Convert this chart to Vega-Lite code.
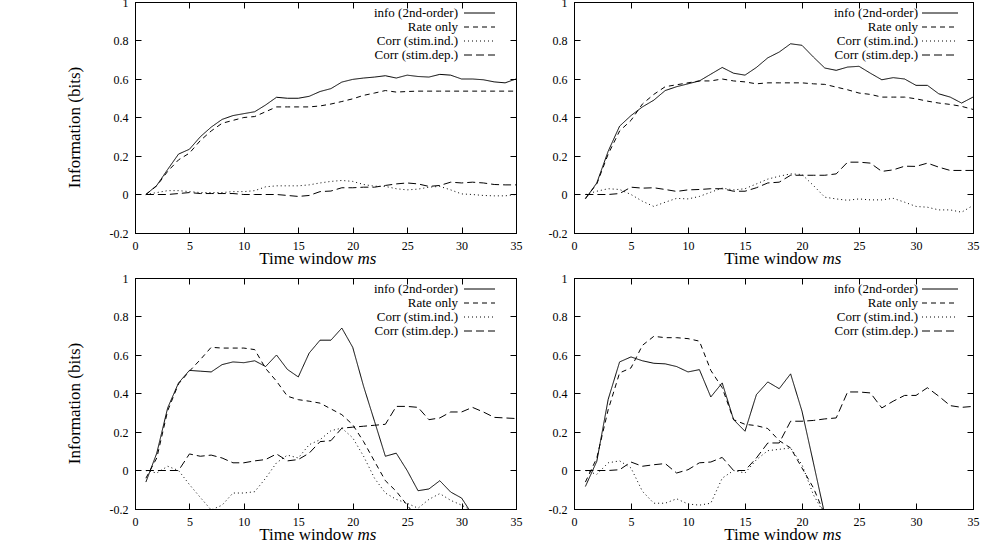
{
  "$schema": "https://vega.github.io/schema/vega-lite/v6.json",
  "padding": {"left": 64, "top": -5, "right": 0, "bottom": 0},
  "data": {
    "values": [
      {"p": "a", "t": 1, "info": 0, "rate": 0, "ind": 0, "dep": 0},
      {"p": "a", "t": 2, "info": 0.047, "rate": 0.045, "ind": 0.01, "dep": 0},
      {"p": "a", "t": 3, "info": 0.13, "rate": 0.12, "ind": 0.02, "dep": 0},
      {"p": "a", "t": 4, "info": 0.21, "rate": 0.18, "ind": 0.02, "dep": 0.005},
      {"p": "a", "t": 5, "info": 0.235, "rate": 0.215, "ind": 0.015, "dep": 0.01},
      {"p": "a", "t": 6, "info": 0.3, "rate": 0.28, "ind": 0.01, "dep": 0.005},
      {"p": "a", "t": 7, "info": 0.35, "rate": 0.33, "ind": 0.01, "dep": 0.005},
      {"p": "a", "t": 8, "info": 0.39, "rate": 0.37, "ind": 0.01, "dep": 0.005},
      {"p": "a", "t": 9, "info": 0.41, "rate": 0.385, "ind": 0.015, "dep": 0.005},
      {"p": "a", "t": 10, "info": 0.42, "rate": 0.4, "ind": 0.015, "dep": 0},
      {"p": "a", "t": 11, "info": 0.43, "rate": 0.405, "ind": 0.02, "dep": 0},
      {"p": "a", "t": 12, "info": 0.465, "rate": 0.43, "ind": 0.04, "dep": 0},
      {"p": "a", "t": 13, "info": 0.505, "rate": 0.455, "ind": 0.045, "dep": 0},
      {"p": "a", "t": 14, "info": 0.5, "rate": 0.455, "ind": 0.045, "dep": -0.005},
      {"p": "a", "t": 15, "info": 0.5, "rate": 0.455, "ind": 0.045, "dep": -0.01},
      {"p": "a", "t": 16, "info": 0.51, "rate": 0.455, "ind": 0.05, "dep": -0.005},
      {"p": "a", "t": 17, "info": 0.535, "rate": 0.46, "ind": 0.06, "dep": 0.015},
      {"p": "a", "t": 18, "info": 0.55, "rate": 0.47, "ind": 0.068, "dep": 0.018},
      {"p": "a", "t": 19, "info": 0.584, "rate": 0.483, "ind": 0.073, "dep": 0.035},
      {"p": "a", "t": 20, "info": 0.598, "rate": 0.497, "ind": 0.068, "dep": 0.035},
      {"p": "a", "t": 21, "info": 0.605, "rate": 0.515, "ind": 0.052, "dep": 0.038},
      {"p": "a", "t": 22, "info": 0.61, "rate": 0.527, "ind": 0.043, "dep": 0.038},
      {"p": "a", "t": 23, "info": 0.617, "rate": 0.54, "ind": 0.042, "dep": 0.047},
      {"p": "a", "t": 24, "info": 0.605, "rate": 0.532, "ind": 0.03, "dep": 0.055},
      {"p": "a", "t": 25, "info": 0.62, "rate": 0.535, "ind": 0.024, "dep": 0.06},
      {"p": "a", "t": 26, "info": 0.613, "rate": 0.537, "ind": 0.028, "dep": 0.055},
      {"p": "a", "t": 27, "info": 0.61, "rate": 0.537, "ind": 0.038, "dep": 0.042},
      {"p": "a", "t": 28, "info": 0.624, "rate": 0.537, "ind": 0.042, "dep": 0.047},
      {"p": "a", "t": 29, "info": 0.62, "rate": 0.537, "ind": 0.024, "dep": 0.064},
      {"p": "a", "t": 30, "info": 0.6, "rate": 0.537, "ind": 0.003, "dep": 0.06},
      {"p": "a", "t": 31, "info": 0.6, "rate": 0.537, "ind": 0, "dep": 0.064},
      {"p": "a", "t": 32, "info": 0.596, "rate": 0.537, "ind": -0.005, "dep": 0.06},
      {"p": "a", "t": 33, "info": 0.585, "rate": 0.537, "ind": -0.007, "dep": 0.052},
      {"p": "a", "t": 34, "info": 0.58, "rate": 0.537, "ind": -0.007, "dep": 0.05},
      {"p": "a", "t": 35, "info": 0.6, "rate": 0.537, "ind": 0, "dep": 0.05},
      {"p": "b", "t": 1, "info": -0.023, "rate": -0.02, "ind": 0, "dep": 0},
      {"p": "b", "t": 2, "info": 0.06, "rate": 0.055, "ind": 0.017, "dep": 0},
      {"p": "b", "t": 3, "info": 0.225, "rate": 0.21, "ind": 0.03, "dep": 0},
      {"p": "b", "t": 4, "info": 0.355, "rate": 0.33, "ind": 0.026, "dep": 0.005},
      {"p": "b", "t": 5, "info": 0.41, "rate": 0.385, "ind": 0, "dep": 0.038},
      {"p": "b", "t": 6, "info": 0.455, "rate": 0.47, "ind": -0.035, "dep": 0.033},
      {"p": "b", "t": 7, "info": 0.49, "rate": 0.52, "ind": -0.062, "dep": 0.035},
      {"p": "b", "t": 8, "info": 0.54, "rate": 0.56, "ind": -0.04, "dep": 0.026},
      {"p": "b", "t": 9, "info": 0.56, "rate": 0.57, "ind": -0.02, "dep": 0.016},
      {"p": "b", "t": 10, "info": 0.575, "rate": 0.58, "ind": -0.023, "dep": 0.024},
      {"p": "b", "t": 11, "info": 0.59, "rate": 0.59, "ind": -0.01, "dep": 0.026},
      {"p": "b", "t": 12, "info": 0.625, "rate": 0.59, "ind": 0.012, "dep": 0.03},
      {"p": "b", "t": 13, "info": 0.66, "rate": 0.6, "ind": 0.033, "dep": 0.03},
      {"p": "b", "t": 14, "info": 0.63, "rate": 0.59, "ind": 0.024, "dep": 0.017},
      {"p": "b", "t": 15, "info": 0.62, "rate": 0.585, "ind": 0.03, "dep": 0.017},
      {"p": "b", "t": 16, "info": 0.66, "rate": 0.575, "ind": 0.055, "dep": 0.035},
      {"p": "b", "t": 17, "info": 0.71, "rate": 0.58, "ind": 0.08, "dep": 0.06},
      {"p": "b", "t": 18, "info": 0.74, "rate": 0.58, "ind": 0.095, "dep": 0.064},
      {"p": "b", "t": 19, "info": 0.783, "rate": 0.58, "ind": 0.107, "dep": 0.1},
      {"p": "b", "t": 20, "info": 0.775, "rate": 0.58, "ind": 0.104, "dep": 0.1},
      {"p": "b", "t": 21, "info": 0.714, "rate": 0.575, "ind": 0.047, "dep": 0.1},
      {"p": "b", "t": 22, "info": 0.657, "rate": 0.572, "ind": -0.014, "dep": 0.1},
      {"p": "b", "t": 23, "info": 0.645, "rate": 0.558, "ind": -0.023, "dep": 0.107},
      {"p": "b", "t": 24, "info": 0.662, "rate": 0.544, "ind": -0.03, "dep": 0.168},
      {"p": "b", "t": 25, "info": 0.666, "rate": 0.527, "ind": -0.023, "dep": 0.168},
      {"p": "b", "t": 26, "info": 0.63, "rate": 0.52, "ind": -0.028, "dep": 0.163},
      {"p": "b", "t": 27, "info": 0.596, "rate": 0.506, "ind": -0.028, "dep": 0.12},
      {"p": "b", "t": 28, "info": 0.607, "rate": 0.506, "ind": -0.02, "dep": 0.128},
      {"p": "b", "t": 29, "info": 0.6, "rate": 0.506, "ind": -0.04, "dep": 0.147},
      {"p": "b", "t": 30, "info": 0.567, "rate": 0.497, "ind": -0.062, "dep": 0.146},
      {"p": "b", "t": 31, "info": 0.567, "rate": 0.485, "ind": -0.066, "dep": 0.163},
      {"p": "b", "t": 32, "info": 0.523, "rate": 0.475, "ind": -0.08, "dep": 0.142},
      {"p": "b", "t": 33, "info": 0.506, "rate": 0.468, "ind": -0.08, "dep": 0.125},
      {"p": "b", "t": 34, "info": 0.475, "rate": 0.458, "ind": -0.092, "dep": 0.125},
      {"p": "b", "t": 35, "info": 0.506, "rate": 0.442, "ind": -0.057, "dep": 0.125},
      {"p": "c", "t": 1, "info": -0.06, "rate": -0.04, "ind": 0, "dep": 0},
      {"p": "c", "t": 2, "info": 0.09, "rate": 0.065, "ind": -0.013, "dep": 0},
      {"p": "c", "t": 3, "info": 0.325, "rate": 0.31, "ind": 0.022, "dep": 0},
      {"p": "c", "t": 4, "info": 0.455, "rate": 0.45, "ind": 0, "dep": 0},
      {"p": "c", "t": 5, "info": 0.52, "rate": 0.516, "ind": -0.073, "dep": 0.086},
      {"p": "c", "t": 6, "info": 0.516, "rate": 0.576, "ind": -0.14, "dep": 0.074},
      {"p": "c", "t": 7, "info": 0.512, "rate": 0.64, "ind": -0.205, "dep": 0.08},
      {"p": "c", "t": 8, "info": 0.55, "rate": 0.636, "ind": -0.18, "dep": 0.065},
      {"p": "c", "t": 9, "info": 0.564, "rate": 0.636, "ind": -0.117, "dep": 0.04},
      {"p": "c", "t": 10, "info": 0.56, "rate": 0.636, "ind": -0.117, "dep": 0.04},
      {"p": "c", "t": 11, "info": 0.57, "rate": 0.628, "ind": -0.11, "dep": 0.05},
      {"p": "c", "t": 12, "info": 0.54, "rate": 0.53, "ind": -0.04, "dep": 0.057},
      {"p": "c", "t": 13, "info": 0.6, "rate": 0.464, "ind": 0.04, "dep": 0.086},
      {"p": "c", "t": 14, "info": 0.525, "rate": 0.386, "ind": 0.08, "dep": 0.05},
      {"p": "c", "t": 15, "info": 0.486, "rate": 0.368, "ind": 0.065, "dep": 0.057},
      {"p": "c", "t": 16, "info": 0.61, "rate": 0.36, "ind": 0.134, "dep": 0.09},
      {"p": "c", "t": 17, "info": 0.677, "rate": 0.35, "ind": 0.16, "dep": 0.15},
      {"p": "c", "t": 18, "info": 0.677, "rate": 0.32, "ind": 0.207, "dep": 0.155},
      {"p": "c", "t": 19, "info": 0.74, "rate": 0.29, "ind": 0.22, "dep": 0.22},
      {"p": "c", "t": 20, "info": 0.64, "rate": 0.238, "ind": 0.17, "dep": 0.225},
      {"p": "c", "t": 21, "info": 0.437, "rate": 0.15, "ind": 0.074, "dep": 0.23},
      {"p": "c", "t": 22, "info": 0.256, "rate": 0.048, "ind": -0.04, "dep": 0.235},
      {"p": "c", "t": 23, "info": 0.074, "rate": -0.053, "ind": -0.117, "dep": 0.24},
      {"p": "c", "t": 24, "info": 0.09, "rate": -0.108, "ind": -0.15, "dep": 0.333},
      {"p": "c", "t": 25, "info": 0, "rate": -0.18, "ind": -0.17, "dep": 0.333},
      {"p": "c", "t": 26, "info": -0.105, "rate": -0.25, "ind": -0.196, "dep": 0.328},
      {"p": "c", "t": 27, "info": -0.096, "rate": null, "ind": -0.15, "dep": 0.264},
      {"p": "c", "t": 28, "info": -0.053, "rate": null, "ind": -0.12, "dep": 0.273},
      {"p": "c", "t": 29, "info": -0.112, "rate": null, "ind": -0.155, "dep": 0.304},
      {"p": "c", "t": 30, "info": -0.143, "rate": null, "ind": -0.18, "dep": 0.304},
      {"p": "c", "t": 31, "info": -0.23, "rate": null, "ind": -0.21, "dep": 0.328},
      {"p": "c", "t": 32, "info": null, "rate": null, "ind": null, "dep": 0.304},
      {"p": "c", "t": 33, "info": null, "rate": null, "ind": null, "dep": 0.276},
      {"p": "c", "t": 34, "info": null, "rate": null, "ind": null, "dep": 0.273},
      {"p": "c", "t": 35, "info": null, "rate": null, "ind": null, "dep": 0.27},
      {"p": "d", "t": 1, "info": -0.083, "rate": -0.06, "ind": 0, "dep": 0},
      {"p": "d", "t": 2, "info": 0.048, "rate": 0.065, "ind": -0.02, "dep": 0},
      {"p": "d", "t": 3, "info": 0.37, "rate": 0.316, "ind": 0.04, "dep": 0},
      {"p": "d", "t": 4, "info": 0.564, "rate": 0.507, "ind": 0.05, "dep": 0.004},
      {"p": "d", "t": 5, "info": 0.59, "rate": 0.533, "ind": 0.013, "dep": 0.044},
      {"p": "d", "t": 6, "info": 0.57, "rate": 0.65, "ind": -0.108, "dep": 0.022},
      {"p": "d", "t": 7, "info": 0.557, "rate": 0.697, "ind": -0.17, "dep": 0.03},
      {"p": "d", "t": 8, "info": 0.554, "rate": 0.69, "ind": -0.17, "dep": 0.036},
      {"p": "d", "t": 9, "info": 0.54, "rate": 0.69, "ind": -0.147, "dep": -0.013},
      {"p": "d", "t": 10, "info": 0.512, "rate": 0.685, "ind": -0.174, "dep": 0.004},
      {"p": "d", "t": 11, "info": 0.524, "rate": 0.672, "ind": -0.18, "dep": 0.04},
      {"p": "d", "t": 12, "info": 0.382, "rate": 0.52, "ind": -0.17, "dep": 0.044},
      {"p": "d", "t": 13, "info": 0.455, "rate": 0.43, "ind": -0.04, "dep": 0.068},
      {"p": "d", "t": 14, "info": 0.264, "rate": 0.264, "ind": 0, "dep": 0},
      {"p": "d", "t": 15, "info": 0.204, "rate": 0.24, "ind": -0.013, "dep": 0},
      {"p": "d", "t": 16, "info": 0.394, "rate": 0.233, "ind": 0.056, "dep": 0.065},
      {"p": "d", "t": 17, "info": 0.46, "rate": 0.218, "ind": 0.103, "dep": 0.143},
      {"p": "d", "t": 18, "info": 0.425, "rate": 0.155, "ind": 0.11, "dep": 0.143},
      {"p": "d", "t": 19, "info": 0.502, "rate": 0.117, "ind": 0.117, "dep": 0.256},
      {"p": "d", "t": 20, "info": 0.308, "rate": 0.013, "ind": 0.03, "dep": 0.256},
      {"p": "d", "t": 21, "info": 0.04, "rate": -0.09, "ind": -0.126, "dep": 0.26},
      {"p": "d", "t": 22, "info": -0.23, "rate": -0.23, "ind": -0.23, "dep": 0.268},
      {"p": "d", "t": 23, "info": null, "rate": null, "ind": null, "dep": 0.273},
      {"p": "d", "t": 24, "info": null, "rate": null, "ind": null, "dep": 0.408},
      {"p": "d", "t": 25, "info": null, "rate": null, "ind": null, "dep": 0.408},
      {"p": "d", "t": 26, "info": null, "rate": null, "ind": null, "dep": 0.403},
      {"p": "d", "t": 27, "info": null, "rate": null, "ind": null, "dep": 0.325},
      {"p": "d", "t": 28, "info": null, "rate": null, "ind": null, "dep": 0.36},
      {"p": "d", "t": 29, "info": null, "rate": null, "ind": null, "dep": 0.39},
      {"p": "d", "t": 30, "info": null, "rate": null, "ind": null, "dep": 0.39},
      {"p": "d", "t": 31, "info": null, "rate": null, "ind": null, "dep": 0.43},
      {"p": "d", "t": 32, "info": null, "rate": null, "ind": null, "dep": 0.386},
      {"p": "d", "t": 33, "info": null, "rate": null, "ind": null, "dep": 0.337},
      {"p": "d", "t": 34, "info": null, "rate": null, "ind": null, "dep": 0.328},
      {"p": "d", "t": 35, "info": null, "rate": null, "ind": null, "dep": 0.333}
    ]
  },
  "columns": 2,
  "bounds": "flush",
  "align": "each",
  "spacing": {"row": 45, "column": 58},
  "resolve": {"scale": {"strokeDash": "independent"}, "legend": {"strokeDash": "independent"}},
  "concat": [
    {
      "width": 381,
      "height": 231,
      "transform": [{"filter": "datum.p == 'a'"}, {"fold": ["info", "rate", "ind", "dep"], "as": ["series", "bits"]}],
      "layer": [
        {
          "mark": {"type": "line", "clip": true, "color": "black", "strokeWidth": 1},
          "encoding": {
            "x": {"field": "t", "type": "quantitative", "scale": {"domain": [0, 35]}, "axis": {"orient": "bottom", "values": [0, 5, 10, 15, 20, 25, 30, 35], "title": "Time window", "titleX": 218, "titleY": 30.5, "titleAlign": "right", "titleBaseline": "alphabetic"}},
            "y": {"field": "bits", "type": "quantitative", "scale": {"domain": [-0.2, 1]}, "axis": {"orient": "left", "values": [-0.2, 0, 0.2, 0.4, 0.6, 0.8, 1], "labelExpr": "replace(format(datum.value, ''), '−', '-')", "title": "Information (bits)", "titleY": 125}},
            "strokeDash": {"field": "series", "type": "nominal", "scale": {"domain": ["info", "rate", "ind", "dep"], "range": [[1, 0], [5, 4], [1, 3], [8, 4]]}, "legend": {"orient": "none", "legendX": 338, "legendY": 4.5, "symbolType": "M-7.75,0H7.75", "labelOffset": -28, "labelExpr": "datum.label == 'info' ? 'info (2nd-order)' : datum.label == 'rate' ? 'Rate only' : datum.label == 'ind' ? 'Corr (stim.ind.)' : 'Corr (stim.dep.)'"}}
          }
        },
        {
          "mark": {"type": "line", "opacity": 0},
          "encoding": {
            "x": {"field": "t", "type": "quantitative", "scale": {"domain": [0, 35]}, "axis": {"orient": "top", "values": [0, 5, 10, 15, 20, 25, 30, 35], "labels": false, "title": null}},
            "y": {"field": "bits", "type": "quantitative", "scale": {"domain": [-0.2, 1]}, "axis": {"orient": "right", "values": [-0.2, 0, 0.2, 0.4, 0.6, 0.8, 1], "labels": false, "title": null}}
          }
        },
        {
          "mark": {"type": "line", "opacity": 0},
          "encoding": {
            "x": {"field": "t", "type": "quantitative", "scale": {"domain": [0, 35]}, "axis": {"orient": "bottom", "labels": false, "ticks": false, "domain": false, "title": "ms", "titleFontStyle": "italic", "titleX": 222, "titleY": 30.5, "titleAlign": "left", "titleBaseline": "alphabetic"}},
            "y": {"field": "bits", "type": "quantitative", "axis": null}
          }
        }
      ],
      "resolve": {"axis": {"x": "independent", "y": "independent"}}
    },
    {
      "width": 399,
      "height": 231,
      "transform": [{"filter": "datum.p == 'b'"}, {"fold": ["info", "rate", "ind", "dep"], "as": ["series", "bits"]}],
      "layer": [
        {
          "mark": {"type": "line", "clip": true, "color": "black", "strokeWidth": 1},
          "encoding": {
            "x": {"field": "t", "type": "quantitative", "scale": {"domain": [0, 35]}, "axis": {"orient": "bottom", "values": [0, 5, 10, 15, 20, 25, 30, 35], "title": "Time window", "titleX": 244, "titleY": 30.5, "titleAlign": "right", "titleBaseline": "alphabetic"}},
            "y": {"field": "bits", "type": "quantitative", "scale": {"domain": [-0.2, 1]}, "axis": {"orient": "left", "values": [-0.2, 0, 0.2, 0.4, 0.6, 0.8, 1], "labelExpr": "replace(format(datum.value, ''), '−', '-')", "title": null}},
            "strokeDash": {"field": "series", "type": "nominal", "scale": {"domain": ["info", "rate", "ind", "dep"], "range": [[1, 0], [5, 4], [1, 3], [8, 4]]}, "legend": {"orient": "none", "legendX": 359.5, "legendY": 4.5, "symbolType": "M-9,0H9", "labelOffset": -28.5, "labelExpr": "datum.label == 'info' ? 'info (2nd-order)' : datum.label == 'rate' ? 'Rate only' : datum.label == 'ind' ? 'Corr (stim.ind.)' : 'Corr (stim.dep.)'"}}
          }
        },
        {
          "mark": {"type": "line", "opacity": 0},
          "encoding": {
            "x": {"field": "t", "type": "quantitative", "scale": {"domain": [0, 35]}, "axis": {"orient": "top", "values": [0, 5, 10, 15, 20, 25, 30, 35], "labels": false, "title": null}},
            "y": {"field": "bits", "type": "quantitative", "scale": {"domain": [-0.2, 1]}, "axis": {"orient": "right", "values": [-0.2, 0, 0.2, 0.4, 0.6, 0.8, 1], "labels": false, "title": null}}
          }
        },
        {
          "mark": {"type": "line", "opacity": 0},
          "encoding": {
            "x": {"field": "t", "type": "quantitative", "scale": {"domain": [0, 35]}, "axis": {"orient": "bottom", "labels": false, "ticks": false, "domain": false, "title": "ms", "titleFontStyle": "italic", "titleX": 248, "titleY": 30.5, "titleAlign": "left", "titleBaseline": "alphabetic"}},
            "y": {"field": "bits", "type": "quantitative", "axis": null}
          }
        }
      ],
      "resolve": {"axis": {"x": "independent", "y": "independent"}}
    },
    {
      "width": 381,
      "height": 231,
      "transform": [{"filter": "datum.p == 'c'"}, {"fold": ["info", "rate", "ind", "dep"], "as": ["series", "bits"]}],
      "layer": [
        {
          "mark": {"type": "line", "clip": true, "color": "black", "strokeWidth": 1},
          "encoding": {
            "x": {"field": "t", "type": "quantitative", "scale": {"domain": [0, 35]}, "axis": {"orient": "bottom", "values": [0, 5, 10, 15, 20, 25, 30, 35], "title": "Time window", "titleX": 218, "titleY": 30.5, "titleAlign": "right", "titleBaseline": "alphabetic"}},
            "y": {"field": "bits", "type": "quantitative", "scale": {"domain": [-0.2, 1]}, "axis": {"orient": "left", "values": [-0.2, 0, 0.2, 0.4, 0.6, 0.8, 1], "labelExpr": "replace(format(datum.value, ''), '−', '-')", "title": "Information (bits)", "titleY": 125}},
            "strokeDash": {"field": "series", "type": "nominal", "scale": {"domain": ["info", "rate", "ind", "dep"], "range": [[1, 0], [5, 4], [1, 3], [8, 4]]}, "legend": {"orient": "none", "legendX": 338, "legendY": 4.5, "symbolType": "M-7.75,0H7.75", "labelOffset": -28, "labelExpr": "datum.label == 'info' ? 'info (2nd-order)' : datum.label == 'rate' ? 'Rate only' : datum.label == 'ind' ? 'Corr (stim.ind.)' : 'Corr (stim.dep.)'"}}
          }
        },
        {
          "mark": {"type": "line", "opacity": 0},
          "encoding": {
            "x": {"field": "t", "type": "quantitative", "scale": {"domain": [0, 35]}, "axis": {"orient": "top", "values": [0, 5, 10, 15, 20, 25, 30, 35], "labels": false, "title": null}},
            "y": {"field": "bits", "type": "quantitative", "scale": {"domain": [-0.2, 1]}, "axis": {"orient": "right", "values": [-0.2, 0, 0.2, 0.4, 0.6, 0.8, 1], "labels": false, "title": null}}
          }
        },
        {
          "mark": {"type": "line", "opacity": 0},
          "encoding": {
            "x": {"field": "t", "type": "quantitative", "scale": {"domain": [0, 35]}, "axis": {"orient": "bottom", "labels": false, "ticks": false, "domain": false, "title": "ms", "titleFontStyle": "italic", "titleX": 222, "titleY": 30.5, "titleAlign": "left", "titleBaseline": "alphabetic"}},
            "y": {"field": "bits", "type": "quantitative", "axis": null}
          }
        }
      ],
      "resolve": {"axis": {"x": "independent", "y": "independent"}}
    },
    {
      "width": 399,
      "height": 231,
      "transform": [{"filter": "datum.p == 'd'"}, {"fold": ["info", "rate", "ind", "dep"], "as": ["series", "bits"]}],
      "layer": [
        {
          "mark": {"type": "line", "clip": true, "color": "black", "strokeWidth": 1},
          "encoding": {
            "x": {"field": "t", "type": "quantitative", "scale": {"domain": [0, 35]}, "axis": {"orient": "bottom", "values": [0, 5, 10, 15, 20, 25, 30, 35], "title": "Time window", "titleX": 244, "titleY": 30.5, "titleAlign": "right", "titleBaseline": "alphabetic"}},
            "y": {"field": "bits", "type": "quantitative", "scale": {"domain": [-0.2, 1]}, "axis": {"orient": "left", "values": [-0.2, 0, 0.2, 0.4, 0.6, 0.8, 1], "labelExpr": "replace(format(datum.value, ''), '−', '-')", "title": null}},
            "strokeDash": {"field": "series", "type": "nominal", "scale": {"domain": ["info", "rate", "ind", "dep"], "range": [[1, 0], [5, 4], [1, 3], [8, 4]]}, "legend": {"orient": "none", "legendX": 359.5, "legendY": 4.5, "symbolType": "M-9,0H9", "labelOffset": -28.5, "labelExpr": "datum.label == 'info' ? 'info (2nd-order)' : datum.label == 'rate' ? 'Rate only' : datum.label == 'ind' ? 'Corr (stim.ind.)' : 'Corr (stim.dep.)'"}}
          }
        },
        {
          "mark": {"type": "line", "opacity": 0},
          "encoding": {
            "x": {"field": "t", "type": "quantitative", "scale": {"domain": [0, 35]}, "axis": {"orient": "top", "values": [0, 5, 10, 15, 20, 25, 30, 35], "labels": false, "title": null}},
            "y": {"field": "bits", "type": "quantitative", "scale": {"domain": [-0.2, 1]}, "axis": {"orient": "right", "values": [-0.2, 0, 0.2, 0.4, 0.6, 0.8, 1], "labels": false, "title": null}}
          }
        },
        {
          "mark": {"type": "line", "opacity": 0},
          "encoding": {
            "x": {"field": "t", "type": "quantitative", "scale": {"domain": [0, 35]}, "axis": {"orient": "bottom", "labels": false, "ticks": false, "domain": false, "title": "ms", "titleFontStyle": "italic", "titleX": 248, "titleY": 30.5, "titleAlign": "left", "titleBaseline": "alphabetic"}},
            "y": {"field": "bits", "type": "quantitative", "axis": null}
          }
        }
      ],
      "resolve": {"axis": {"x": "independent", "y": "independent"}}
    }
  ],
  "config": {
    "font": "Liberation Serif",
    "view": {"stroke": "black", "strokeWidth": 1},
    "axis": {
      "grid": false,
      "domainColor": "black",
      "domainWidth": 1,
      "tickColor": "black",
      "tickWidth": 1,
      "tickSize": -6,
      "labelPadding": 13,
      "labelFont": "Liberation Serif",
      "labelFontSize": 12,
      "labelColor": "black",
      "labelFlush": false,
      "labelOverlap": false,
      "titleFont": "Liberation Serif",
      "titleFontSize": 17,
      "titleFontWeight": "normal",
      "titleColor": "black"
    },
    "axisY": {"titlePadding": 26},
    "legend": {
      "title": null,
      "padding": 0,
      "rowPadding": -1.3,
      "symbolSize": 16,
      "symbolStrokeWidth": 1,
      "symbolStrokeColor": "black",
      "symbolFillColor": "transparent",
      "labelAlign": "right",
      "labelFont": "Liberation Serif",
      "labelFontSize": 13,
      "labelColor": "black"
    }
  }
}
